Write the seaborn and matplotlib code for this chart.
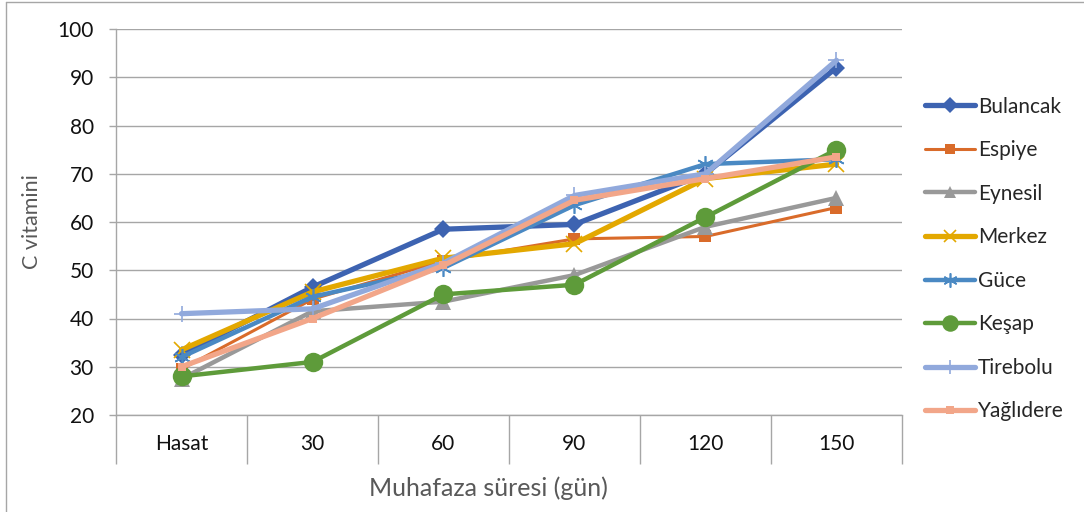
import matplotlib
matplotlib.use("Agg")
import matplotlib.pyplot as plt
import seaborn as sns
import pandas as pd
from matplotlib.lines import Line2D

# Storage period categories (days)
periods = ["Hasat", "30", "60", "90", "120", "150"]

# Vitamin C content per location
bulancak = [32.5, 46.5, 58.5, 59.5, 70.0, 92.0]
espiye = [29.5, 44.0, 52.0, 56.5, 57.0, 63.0]
eynesil = [27.5, 41.5, 43.5, 49.0, 59.0, 65.0]
merkez = [33.5, 45.5, 52.5, 55.5, 69.0, 72.0]
guce = [32.0, 44.5, 50.5, 63.5, 72.0, 73.0]
kesap = [28.0, 31.0, 45.0, 47.0, 61.0, 75.0]
tirebolu = [41.0, 42.0, 51.5, 65.5, 70.0, 93.5]
yaglidere = [30.0, 40.0, 51.0, 64.5, 69.0, 73.5]

series = {
    "Bulancak": bulancak,
    "Espiye": espiye,
    "Eynesil": eynesil,
    "Merkez": merkez,
    "Güce": guce,
    "Keşap": kesap,
    "Tirebolu": tirebolu,
    "Yağlıdere": yaglidere,
}

styles = {
    "Bulancak": dict(color="#3D63B1", marker="D", ms=9, lw=3.8, mew=0),
    "Espiye": dict(color="#D96B2A", marker="s", ms=9, lw=2.2, mew=0),
    "Eynesil": dict(color="#999999", marker="^", ms=11, lw=3.2, mew=0),
    "Merkez": dict(color="#E3A800", marker="x", ms=11, lw=3.8, mew=1.2),
    "Güce": dict(color="#4A89C3", marker=(6, 2, 0), ms=12, lw=3.2, mew=1.2),
    "Keşap": dict(color="#5E9B3A", marker="o", ms=14, lw=3.2, mew=0),
    "Tirebolu": dict(color="#91A9DC", marker="+", ms=12, lw=3.8, mew=1.2),
    "Yağlıdere": dict(color="#F2A689", marker="s", ms=6, lw=3.8, mew=0),
}

rows = []
for name, vals in series.items():
    for p, v in zip(periods, vals):
        rows.append({"Süre": p, "C vitamini": v, "Bölge": name})
df = pd.DataFrame(rows)

sns.set_theme(style="white")
plt.rcParams["font.family"] = ["Lato", "DejaVu Sans"]

fig = plt.figure(figsize=(10.84, 5.12), dpi=100)
ax = fig.add_axes([116 / 1084, 1 - 415 / 512, (902 - 116) / 1084, (415 - 29) / 512])

handles = []
for name in series:
    st = styles[name]
    sub = df[df["Bölge"] == name]
    sns.lineplot(
        data=sub, x="Süre", y="C vitamini", ax=ax, color=st["color"],
        marker=st["marker"], markersize=st["ms"], linewidth=st["lw"],
        markeredgewidth=st["mew"], markeredgecolor=st["color"],
        sort=False, legend=False, solid_capstyle="round",
    )
    handles.append(Line2D([], [], color=st["color"], lw=st["lw"],
                          marker=st["marker"], ms=st["ms"] * 0.85,
                          mew=st["mew"], mec=st["color"],
                          solid_capstyle="round", label=name))

# Axes ranges and grid
ax.set_ylim(20, 100)
ax.set_yticks(range(20, 101, 10))
ax.set_xlim(-0.5, len(periods) - 0.5)
ax.yaxis.grid(True, color="#A6A6A6", lw=1.0)
ax.set_axisbelow(True)

# Category boundaries drawn as long tick marks below the axis; labels centred in each band
ax.set_xticks([i - 0.5 for i in range(len(periods) + 1)])
ax.set_xticklabels([])
ax.set_xticks(range(len(periods)), minor=True)
ax.set_xticklabels(periods, minor=True)
ax.tick_params(axis="x", which="major", direction="out", length=35, width=1.0,
               color="#A6A6A6", bottom=True)
ax.tick_params(axis="x", which="minor", length=0, pad=14, labelsize=15,
               labelcolor="#111111")
ax.tick_params(axis="y", direction="out", length=5, width=1.0, color="#A6A6A6",
               left=True, labelsize=15, labelcolor="#111111", pad=11)

for side in ["top", "right"]:
    ax.spines[side].set_visible(False)
for side in ["left", "bottom"]:
    ax.spines[side].set_color("#A6A6A6")
    ax.spines[side].set_linewidth(1.0)

ax.set_xlabel("Muhafaza süresi (gün)", fontsize=18, color="#595959")
ax.xaxis.set_label_coords((488 - 116) / 786, -0.16)
ax.set_ylabel("C vitamini", fontsize=15.5, color="#595959", labelpad=11)

fig.legend(handles=handles, loc="center left", bbox_to_anchor=(0.853, 0.494),
           frameon=False, fontsize=15, handlelength=2.4, handletextpad=0.15,
           labelspacing=1.13, borderpad=0, borderaxespad=0)

# Chart border along the left and top edges
fig.add_artist(Line2D([6 / 1084, 6 / 1084], [0, 1 - 2 / 512], transform=fig.transFigure,
                      color="#A6A6A6", lw=1.0))
fig.add_artist(Line2D([6 / 1084, 1], [1 - 2 / 512, 1 - 2 / 512], transform=fig.transFigure,
                      color="#A6A6A6", lw=1.0))

fig.savefig("out.png", dpi=100)
